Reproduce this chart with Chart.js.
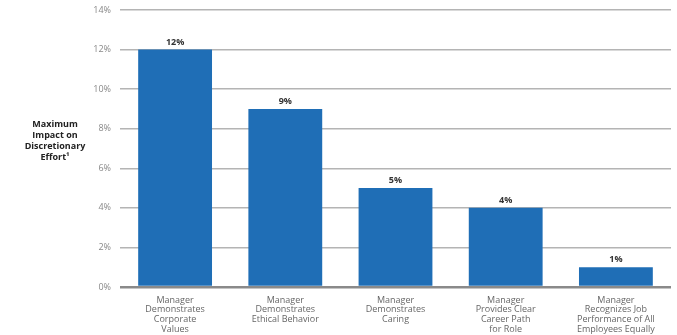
<!DOCTYPE html>
<html>
<head>
<meta charset="utf-8">
<script src="https://cdn.jsdelivr.net/npm/chart.js@4"></script>
<style>
  html, body { margin: 0; padding: 0; background: #fff; }
  #wrap { width: 677px; height: 335px; position: relative; }
</style>
</head>
<body>
<div id="wrap"><canvas id="impactChart"></canvas></div>
<script>
// drivers and their maximum impact on discretionary effort (%)
const categories = [
    ['Manager', 'Demonstrates', 'Corporate', 'Values'],
    ['Manager', 'Demonstrates', 'Ethical Behavior'],
    ['Manager', 'Demonstrates', 'Caring'],
    ['Manager', 'Provides Clear', 'Career Path', 'for Role'],
    ['Manager', 'Recognizes Job', 'Performance of All', 'Employees Equally']
];
const impactValues = [12, 9, 5, 4, 1];
const yTicks = [0, 2, 4, 6, 8, 10, 12, 14];
const yTitleLines = ['Maximum', 'Impact on', 'Discretionary', 'Effort\u00b9'];

const FONT = "'Open Sans', sans-serif";

// value labels above each bar
const barLabels = {
    id: 'barLabels',
    afterDatasetsDraw(chart) {
        const ctx = chart.ctx;
        const meta = chart.getDatasetMeta(0);
        ctx.save();
        ctx.font = `bold 9px ${FONT}`;
        ctx.fillStyle = '#333';
        ctx.textAlign = 'center';
        ctx.textBaseline = 'bottom';
        meta.data.forEach((bar, i) => {
            ctx.fillText(impactValues[i] + '%', bar.x, bar.y - 3);
        });
        ctx.restore();
    }
};

// horizontal y-axis title on the left
const yTitle = {
    id: 'yTitle',
    afterDraw(chart) {
        const ctx = chart.ctx;
        ctx.save();
        ctx.font = `bold 9px ${FONT}`;
        ctx.fillStyle = '#222';
        ctx.textAlign = 'center';
        ctx.textBaseline = 'middle';
        yTitleLines.forEach((line, i) => {
            ctx.fillText(line, 55, 124 + i * 11);
        });
        ctx.restore();
    }
};

new Chart(document.getElementById('impactChart'), {
    type: 'bar',
    data: {
        labels: categories,
        datasets: [{
            data: impactValues,
            backgroundColor: '#1f6eb6',
            barPercentage: 0.67,
            categoryPercentage: 1
        }]
    },
    options: {
        responsive: true,
        maintainAspectRatio: false,
        animation: false,
        layout: { padding: { top: 10, right: 6, left: 0, bottom: 0 } },
        plugins: {
            legend: { display: false },
            tooltip: { enabled: false }
        },
        scales: {
            x: {
                grid: { display: false },
                border: { display: false },
                ticks: {
                    color: '#666',
                    font: { family: FONT, size: 9, lineHeight: 1.1 },
                    padding: 0,
                    maxRotation: 0,
                    autoSkip: false
                },
                afterFit(scale) { scale.height = 48; }
            },
            y: {
                min: 0,
                max: 14,
                afterBuildTicks(scale) {
                    scale.ticks = yTicks.map(v => ({ value: v }));
                },
                border: { display: false },
                grid: {
                    drawTicks: false,
                    color: ctx => ctx.tick && ctx.tick.value === 0 ? '#8a8a8a' : '#b4b4b4',
                    lineWidth: ctx => ctx.tick && ctx.tick.value === 0 ? 2.5 : 1.5
                },
                ticks: {
                    color: '#888',
                    font: { family: FONT, size: 9, lineHeight: 0.5 },
                    padding: 9,
                    callback: v => v + '%'
                },
                afterFit(scale) {
                    scale.width = 120;
                    scale.paddingTop = 0;
                }
            }
        }
    },
    plugins: [barLabels, yTitle]
});
</script>
</body>
</html>
